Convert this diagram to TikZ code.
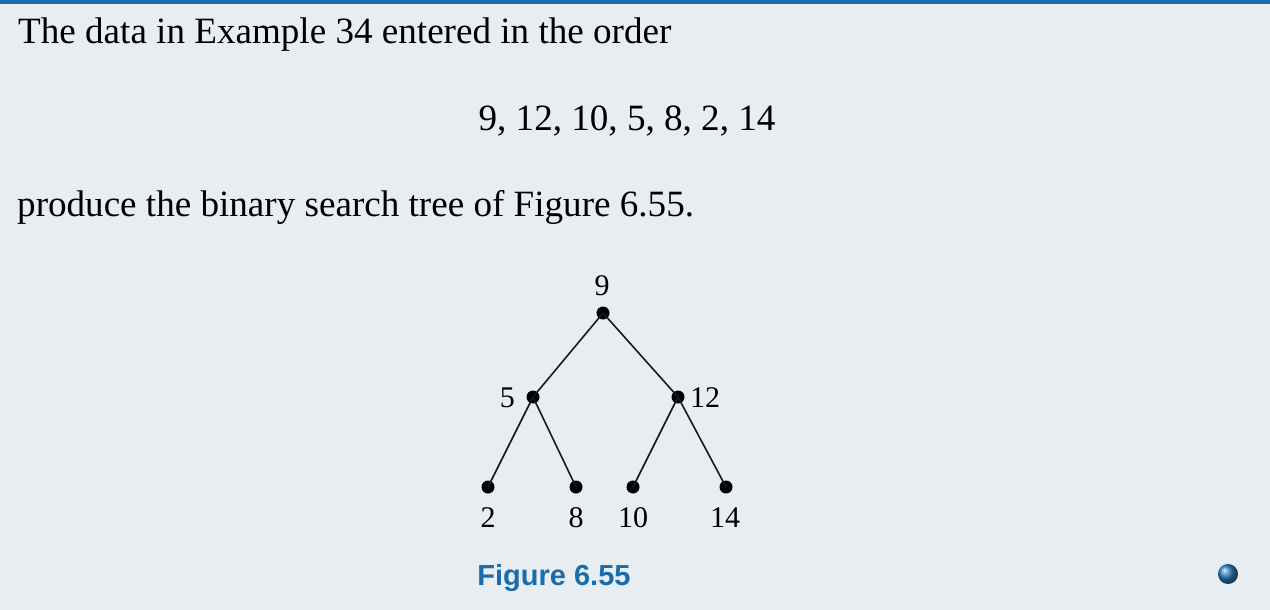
\documentclass[tikz,border=0pt]{standalone}
\usepackage{fontspec}
\setmainfont{Liberation Serif}
\setsansfont{Liberation Sans}
\definecolor{bg}{HTML}{E8EDF1}
\definecolor{topblue}{HTML}{1B6EA8}
\definecolor{capblue}{HTML}{1A6DAA}
\definecolor{ballblue}{HTML}{2A7DBF}
\begin{document}
\begin{tikzpicture}[x=1pt,y=-1pt,
  dot/.style={circle,fill=black,inner sep=0pt,minimum size=13pt},
  edge/.style={line width=1.6pt,black!90},
  lbl/.style={font=\fontsize{30}{30}\selectfont,inner sep=0pt},
  body/.style={font=\fontsize{37.1}{37.1}\selectfont,inner sep=0pt}]
\useasboundingbox (0,0) rectangle (1270,610);
\fill[bg] (0,0) rectangle (1270,610);
\fill[topblue] (0,0) rectangle (1270,4);
\node[body,anchor=base west] (t1) at (18,44) {The data in Example 34 entered in the order};
\node[body,anchor=base] (t2) at (627,131) {9, 12, 10, 5, 8, 2, 14};
\node[body,anchor=base west] (t3) at (17,216) {produce the binary search tree of Figure 6.55.};
% tree
\node[dot] (n9) at (603,313) {};
\node[dot] (n5) at (533,397) {};
\node[dot] (n12) at (678,397) {};
\node[dot] (n2) at (488,487) {};
\node[dot] (n8) at (576,487) {};
\node[dot] (n10) at (633,487) {};
\node[dot] (n14) at (726,487) {};
\draw[edge] (n9.center) -- (n5.center);
\draw[edge] (n9.center) -- (n12.center);
\draw[edge] (n5.center) -- (n2.center);
\draw[edge] (n5.center) -- (n8.center);
\draw[edge] (n12.center) -- (n10.center);
\draw[edge] (n12.center) -- (n14.center);
\node[lbl,anchor=base] (l9) at (602,295) {9};
\node[lbl,anchor=base east] (l5) at (515,407) {5};
\node[lbl,anchor=base west] (l12) at (690,407) {12};
\node[lbl,anchor=base] (l2) at (488,527) {2};
\node[lbl,anchor=base] (l8) at (576,527) {8};
\node[lbl,anchor=base] (l10) at (633,527) {10};
\node[lbl,anchor=base] (l14) at (725,527) {14};
\node[font=\sffamily\bfseries\fontsize{29}{29}\selectfont,text=capblue,anchor=base,inner sep=0pt] (cap) at (554,585) {Figure 6.55};
\shade[ball color=ballblue] (1228,574) circle (10);
\end{tikzpicture}
\end{document}
